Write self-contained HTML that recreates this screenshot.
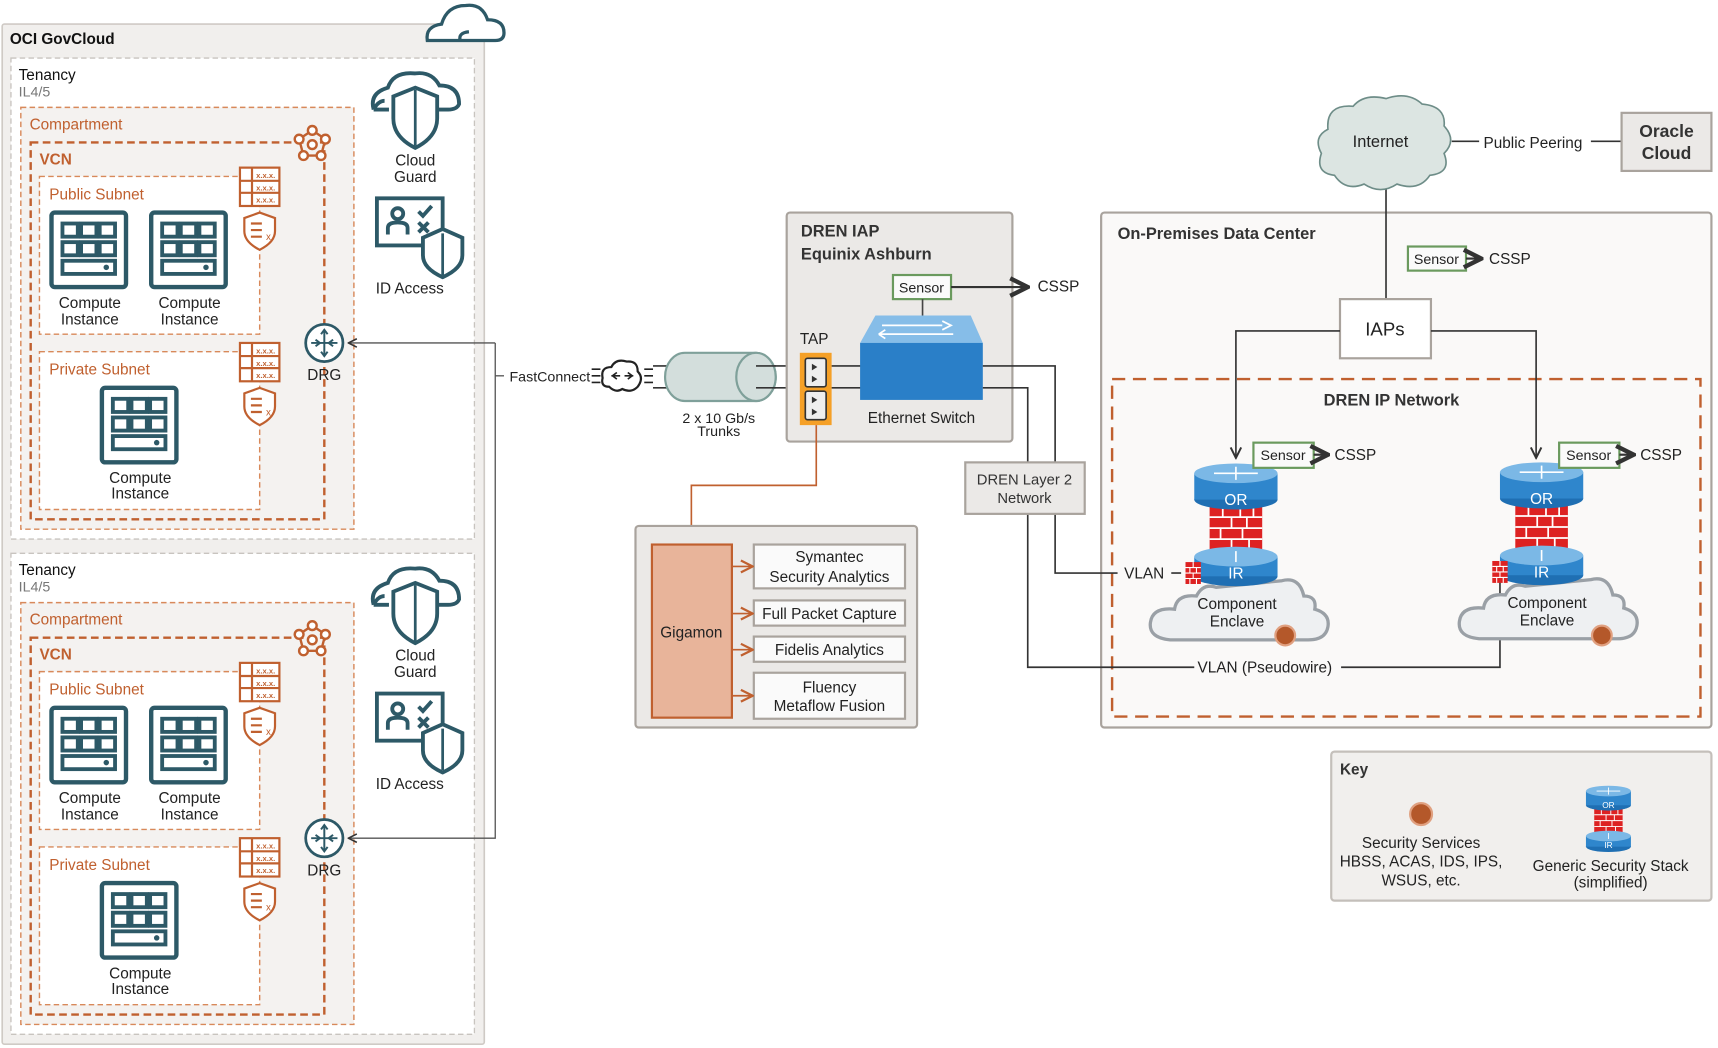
<!DOCTYPE html>
<html><head><meta charset="utf-8"><style>
html,body{margin:0;padding:0;background:#fff;}
svg{display:block;font-family:"Liberation Sans",sans-serif;}
</style></head><body>
<svg width="1718" height="1048" viewBox="0 0 1568 956.5" xmlns="http://www.w3.org/2000/svg">
<defs>
 <g id="compute">
  <rect x="2" y="2" width="68" height="68" rx="3" fill="#fff" stroke="#2d5967" stroke-width="4"/>
  <g fill="none" stroke="#2d5967" stroke-width="3.5">
   <rect x="12" y="12" width="14" height="12"/><rect x="29" y="12" width="14" height="12"/><rect x="46" y="12" width="14" height="12"/>
   <rect x="12" y="29" width="14" height="12"/><rect x="29" y="29" width="14" height="12"/><rect x="46" y="29" width="14" height="12"/>
   <rect x="12" y="46" width="48" height="12"/>
  </g>
  <circle cx="52" cy="52" r="2.5" fill="#2d5967"/>
 </g>
 <g id="seclist">
  <rect x="0" y="0" width="36" height="35" fill="#fff" stroke="#c0602f" stroke-width="2"/>
  <line x1="11" y1="0" x2="11" y2="35" stroke="#c0602f" stroke-width="2"/>
  <line x1="0" y1="12" x2="36" y2="12" stroke="#c0602f" stroke-width="2"/>
  <line x1="0" y1="23" x2="36" y2="23" stroke="#c0602f" stroke-width="2"/>
  <text x="23.5" y="9.5" font-size="7" fill="#c0602f" text-anchor="middle" font-weight="bold">x.x.x.</text>
  <text x="23.5" y="21" font-size="7" fill="#c0602f" text-anchor="middle" font-weight="bold">x.x.x.</text>
  <text x="23.5" y="32" font-size="7" fill="#c0602f" text-anchor="middle" font-weight="bold">x.x.x.</text>
  <path d="M18 41 L32 46 L32 58 Q32 68 18 75 Q4 68 4 58 L4 46 Z" fill="#fff" stroke="#c0602f" stroke-width="2"/>
  <path d="M10 51 h10 M10 57 h10 M10 63 h10" stroke="#c0602f" stroke-width="2"/>
  <text x="26" y="66" font-size="9" fill="#c0602f" text-anchor="middle">x</text>
 </g>
 <g id="vcnicon" fill="#fff" stroke="#c0602f" stroke-width="2.2">
  <path d="M0 -12 L12 -4 L8 11 L-8 11 L-12 -4 Z" fill="none"/>
  <circle cx="0" cy="-12" r="4"/><circle cx="12" cy="-4" r="4"/><circle cx="8" cy="11" r="4"/><circle cx="-8" cy="11" r="4"/><circle cx="-12" cy="-4" r="4"/><circle cx="0" cy="1" r="4"/>
 </g>
 <g id="drg">
  <circle cx="0" cy="0" r="17" fill="#fff" stroke="#2d5967" stroke-width="2.5"/>
  <path d="M0 -12 V12 M-12 0 H12" stroke="#2d5967" stroke-width="1.8"/>
  <path d="M-3 -8 L0 -12 L3 -8 M-3 8 L0 12 L3 8 M-8 -3 L-4 0 L-8 3 M8 -3 L4 0 L8 3" fill="none" stroke="#2d5967" stroke-width="1.8"/>
 </g>
 <g id="cguard" fill="none" stroke="#2d5967" stroke-width="3.5">
  <path d="M-28 -8 Q-34 -8 -38 0 M-38 0 Q-42 -15 -25 -20 Q-20 -35 0 -33 Q15 -35 22 -22 Q40 -22 40 -5 Q38 0 30 0 h-14 M-38 0 h14"/>
  <path d="M0 -20 L20 -12 L20 8 Q20 25 0 35 Q-20 25 -20 8 L-20 -12 Z" fill="#fff"/>
  <line x1="0" y1="-18" x2="0" y2="33" stroke-width="2.5"/>
 </g>
 <g id="idacc" stroke="#2d5967" stroke-width="3.5" fill="none">
  <rect x="0" y="0" width="60" height="43" fill="#fff"/>
  <circle cx="19" cy="14" r="5"/><path d="M10 33 V27 Q10 22 19 22 Q28 22 28 27 V33"/>
  <path d="M38 12 l4 4 l8 -9 M38 22 l9 9 M47 22 l-9 9"/>
  <path d="M60 28 L78 36 L78 52 Q78 64 60 72 Q42 64 42 52 L42 36 Z" fill="#fff"/>
  <line x1="60" y1="32" x2="60" y2="70" stroke-width="2.5"/>
 </g>
 <g id="stack">
  <rect x="-24" y="30" width="48" height="42" fill="#d22"/>
  <g stroke="#fff" stroke-width="1.6">
   <path d="M-24 40 h48 M-24 50 h48 M-24 60 h48 M-12 30 v10 M4 30 v10 M16 30 v10 M-4 40 v10 M10 40 v10 M-14 50 v10 M6 50 v10 M-4 60 v10 M12 60 v10"/>
  </g>
  <ellipse cx="0" cy="24" rx="38" ry="9" fill="#1f6fb3"/>
  <rect x="-38" y="0" width="76" height="24" fill="#2f86cc"/>
  <ellipse cx="0" cy="0" rx="38" ry="9" fill="#7bb8e6"/>
  <path d="M-20 0 h40 M0 -6 v12" stroke="#fff" stroke-width="1.5"/>
  <ellipse cx="0" cy="94" rx="38" ry="9" fill="#1f6fb3"/>
  <rect x="-38" y="76" width="76" height="18" fill="#2f86cc"/>
  <ellipse cx="0" cy="76" rx="38" ry="9" fill="#7bb8e6"/>
  <path d="M0 71 v10" stroke="#fff" stroke-width="1.5"/>
  <text x="0" y="29" font-size="14" fill="#fff" text-anchor="middle">OR</text>
  <text x="0" y="96" font-size="14" fill="#fff" text-anchor="middle">IR</text>
 </g>
 <g id="fwsmall">
  <rect x="0" y="0" width="14" height="20" fill="#d22"/>
  <path d="M0 5 h14 M0 10 h14 M0 15 h14 M7 0 v5 M4 5 v5 M10 5 v5 M7 10 v5 M4 15 v5 M10 15 v5" stroke="#fff" stroke-width="1"/>
 </g>
 <g id="encloud">
  <path d="M-62 72 Q-82 70 -80 56 Q-78 42 -58 44 Q-56 30 -38 32 Q-32 20 -20 24 L40 18 Q56 14 60 32 Q72 32 70 44 Q84 48 82 60 Q80 72 64 72 Z" fill="#eef0f2" stroke="#9aa0a6" stroke-width="3"/>
 </g>
 <marker id="ar" viewBox="0 0 10 10" refX="9" refY="5" markerWidth="8" markerHeight="8" orient="auto"><path d="M1 1 L9 5 L1 9" fill="none" stroke="#333" stroke-width="1.5"/></marker>
 <marker id="aro" viewBox="0 0 10 10" refX="9" refY="5" markerWidth="9" markerHeight="9" orient="auto"><path d="M1 1 L9 5 L1 9" fill="none" stroke="#c0602f" stroke-width="1.5"/></marker>
 <marker id="arb" viewBox="0 0 10 10" refX="9" refY="5" markerWidth="10" markerHeight="10" orient="auto"><path d="M1 1 L9 5 L1 9" fill="none" stroke="#333" stroke-width="2"/></marker>
</defs>

<!-- OCI GovCloud -->
<rect x="2" y="22" width="440" height="931" fill="#f1efed" stroke="#cfcac5" stroke-width="1.5" rx="2"/>
<text x="9" y="40" font-size="14" font-weight="bold" fill="#111">OCI GovCloud</text>
<path d="M390 37 Q388 24 403 22 Q408 5 425 5 Q440 3 445 18 Q460 18 460 30 Q460 37 452 37 Z" fill="#fff" stroke="#2d5967" stroke-width="3"/>
<path d="M420 37 Q418 30 428 29" fill="none" stroke="#2d5967" stroke-width="3"/>

<!-- Tenancies -->
<g id="ten">
<rect x="10" y="53" width="423" height="439" fill="#fff" stroke="#c8c4bf" stroke-dasharray="5,3" stroke-width="1.2"/>
<text x="17" y="73" font-size="14" fill="#111">Tenancy</text>
<text x="17" y="88" font-size="13" fill="#777">IL4/5</text>
<rect x="19" y="98" width="304" height="385" fill="#f4f2f0" stroke="#d8895a" stroke-dasharray="5,3" stroke-width="1.3"/>
<text x="27" y="118" font-size="14" fill="#c0602f">Compartment</text>
<rect x="28" y="130" width="268" height="344" fill="none" stroke="#c0602f" stroke-dasharray="7,4" stroke-width="2.2"/>
<text x="36" y="150" font-size="14" font-weight="bold" fill="#c0602f">VCN</text>
<use href="#vcnicon" x="285" y="131"/>
<rect x="36" y="161" width="201" height="144" fill="#fff" stroke="#d8895a" stroke-dasharray="5,3" stroke-width="1.3"/>
<text x="45" y="182" font-size="14" fill="#c0602f">Public Subnet</text>
<use href="#compute" x="45" y="192"/>
<use href="#compute" x="136" y="192"/>
<text font-size="14" fill="#222" text-anchor="middle"><tspan x="82" y="281">Compute</tspan><tspan x="82" y="296">Instance</tspan></text>
<text font-size="14" fill="#222" text-anchor="middle"><tspan x="173" y="281">Compute</tspan><tspan x="173" y="296">Instance</tspan></text>
<use href="#seclist" x="219" y="153"/>
<rect x="36" y="321" width="201" height="144" fill="#fff" stroke="#d8895a" stroke-dasharray="5,3" stroke-width="1.3"/>
<text x="45" y="342" font-size="14" fill="#c0602f">Private Subnet</text>
<use href="#compute" x="91" y="352"/>
<text font-size="14" fill="#222" text-anchor="middle"><tspan x="128" y="441">Compute</tspan><tspan x="128" y="455">Instance</tspan></text>
<use href="#seclist" x="219" y="313"/>
<use href="#drg" x="296" y="313"/>
<text x="296" y="347" font-size="14" fill="#222" text-anchor="middle">DRG</text>
<use href="#cguard" x="379" y="100"/>
<text font-size="14" fill="#222" text-anchor="middle"><tspan x="379" y="151">Cloud</tspan><tspan x="379" y="166">Guard</tspan></text>
<use href="#idacc" x="344" y="181"/>
<text x="374" y="268" font-size="14" fill="#222" text-anchor="middle">ID Access</text>
</g>
<use href="#ten" x="0" y="452"/>

<!-- FastConnect -->
<path d="M452 313 H318" stroke="#555" stroke-width="1.2" fill="none" marker-end="url(#ar)"/>
<path d="M452 313 V765 H318" stroke="#555" stroke-width="1.2" fill="none" marker-end="url(#ar)"/>
<line x1="452" y1="343" x2="460" y2="343" stroke="#555" stroke-width="1.2"/>
<text x="465" y="348" font-size="13" fill="#222">FastConnect</text>
<g transform="translate(568,343)" fill="none" stroke="#222" stroke-width="2">
 <path d="M-12 10 Q-20 10 -18 2 Q-20 -8 -10 -8 Q-6 -16 4 -13 Q14 -14 14 -4 Q20 2 14 10 Q8 16 0 12 Q-6 16 -12 10 Z" fill="#fff"/>
 <path d="M-10 0 h8 M-5 -3 l-4 3 l4 3 M10 0 h-8 M5 -3 l4 3 l-4 3" stroke-width="1.5"/>
 <path d="M-28 -6 h8 M-28 0 h8 M-28 6 h8 M20 -6 h8 M20 0 h8 M20 6 h8" stroke-width="1.5"/>
</g>
<line x1="596" y1="334" x2="740" y2="334" stroke="#333" stroke-width="1.5"/>
<line x1="596" y1="354" x2="740" y2="354" stroke="#333" stroke-width="1.5"/>
<path d="M625 322 H690 A18 22 0 0 1 690 366 H625 A18 22 0 0 1 625 322 Z" fill="#d3dedc" stroke="#7fa09a" stroke-width="2"/>
<ellipse cx="690" cy="344" rx="18" ry="22" fill="#d3dedc" stroke="#7fa09a" stroke-width="2"/>
<line x1="690" y1="334" x2="708" y2="334" stroke="#333" stroke-width="1.5"/>
<line x1="690" y1="354" x2="708" y2="354" stroke="#333" stroke-width="1.5"/>
<text font-size="13" fill="#222" text-anchor="middle"><tspan x="656" y="386">2 x 10 Gb/s</tspan><tspan x="656" y="398">Trunks</tspan></text>

<!-- On-Prem background (drawn before connectors) -->
<rect x="1005" y="194" width="557" height="470" rx="3" fill="#faf9f8" stroke="#a9a39d" stroke-width="2"/>
<text x="1020" y="218" font-size="15" font-weight="bold" fill="#333">On-Premises Data Center</text>
<rect x="1015" y="346" width="537" height="308" fill="none" stroke="#c0602f" stroke-dasharray="12,7" stroke-width="2.2"/>
<text x="1270" y="370" font-size="15" font-weight="bold" fill="#333" text-anchor="middle">DREN IP Network</text>

<!-- DREN IAP -->
<rect x="718" y="194" width="206" height="209" rx="3" fill="#ebe9e7" stroke="#a9a39d" stroke-width="2"/>
<text font-size="15" font-weight="bold" fill="#333"><tspan x="731" y="216">DREN IAP</tspan><tspan x="731" y="237">Equinix Ashburn</tspan></text>
<rect x="815" y="251" width="53" height="22" fill="#fafafa" stroke="#6a9a5e" stroke-width="2"/>
<text x="841" y="267" font-size="13" fill="#222" text-anchor="middle">Sensor</text>
<line x1="868" y1="262" x2="938" y2="262" stroke="#333" stroke-width="2" marker-end="url(#arb)"/>
<text x="947" y="266" font-size="14" fill="#222">CSSP</text>
<line x1="842" y1="273" x2="842" y2="290" stroke="#444" stroke-width="1.5"/>
<line x1="759" y1="334" x2="790" y2="334" stroke="#333" stroke-width="1.5"/>
<line x1="759" y1="354" x2="790" y2="354" stroke="#333" stroke-width="1.5"/>
<text x="730" y="314" font-size="14" fill="#222">TAP</text>
<rect x="730" y="322" width="29" height="66" fill="#f5a027"/>
<rect x="735" y="327" width="19" height="26" rx="2" fill="#eee" stroke="#333" stroke-width="1.5"/>
<rect x="735" y="357" width="19" height="26" rx="2" fill="#eee" stroke="#333" stroke-width="1.5"/>
<path d="M741 332 l5 3 l-5 3 Z M741 343 l5 3 l-5 3 Z M741 362 l5 3 l-5 3 Z M741 373 l5 3 l-5 3 Z" fill="#333"/>
<path d="M799 288 L886 288 L897 313 L785 313 Z" fill="#86bde8"/>
<rect x="785" y="313" width="112" height="52" fill="#2a7fc8"/>
<path d="M805 297 h55 M860 293 l8 4 l-8 4 M810 305 h-8 M802 305 l6 -4 M802 305 l6 4 M810 305 h60" stroke="#fff" stroke-width="1.6" fill="none"/>
<text x="841" y="386" font-size="14" fill="#222" text-anchor="middle">Ethernet Switch</text>
<path d="M897 334 H963 V523 H1020" stroke="#333" stroke-width="1.5" fill="none"/>
<path d="M897 354 H938 V609 H1090" stroke="#333" stroke-width="1.5" fill="none"/>
<path d="M1224 609 H1369 V525" stroke="#333" stroke-width="1.5" fill="none"/>
<text x="1026" y="528" font-size="14" fill="#222">VLAN</text>
<line x1="1069" y1="523" x2="1078" y2="523" stroke="#333" stroke-width="1.5"/>
<text x="1093" y="614" font-size="14" fill="#222">VLAN (Pseudowire)</text>
<rect x="881" y="422" width="109" height="47" fill="#ebe9e7" stroke="#a9a39d" stroke-width="2"/>
<text font-size="13.5" fill="#333" text-anchor="middle"><tspan x="935" y="442">DREN Layer 2</tspan><tspan x="935" y="459">Network</tspan></text>

<!-- Gigamon -->
<path d="M745 388 V443 H631 V494" stroke="#c0602f" stroke-width="1.5" fill="none" marker-end="url(#aro)"/>
<rect x="580" y="480" width="257" height="184" rx="3" fill="#ebe9e7" stroke="#a9a39d" stroke-width="2"/>
<rect x="595" y="497" width="73" height="158" fill="#e8b49a" stroke="#c0602f" stroke-width="2"/>
<text x="631" y="582" font-size="14" fill="#222" text-anchor="middle">Gigamon</text>
<g fill="#fafafa" stroke="#a9a39d" stroke-width="2">
 <rect x="688" y="497" width="138" height="40"/><rect x="688" y="548" width="138" height="23"/><rect x="688" y="581" width="138" height="23"/><rect x="688" y="614" width="138" height="42"/>
</g>
<g stroke="#c0602f" stroke-width="1.5" marker-end="url(#aro)">
 <line x1="668" y1="517" x2="687" y2="517"/><line x1="668" y1="560" x2="687" y2="560"/><line x1="668" y1="593" x2="687" y2="593"/><line x1="668" y1="635" x2="687" y2="635"/>
</g>
<text font-size="14" fill="#222" text-anchor="middle"><tspan x="757" y="513">Symantec</tspan><tspan x="757" y="531">Security Analytics</tspan></text>
<text x="757" y="565" font-size="14" fill="#222" text-anchor="middle">Full Packet Capture</text>
<text x="757" y="598" font-size="14" fill="#222" text-anchor="middle">Fidelis Analytics</text>
<text font-size="14" fill="#222" text-anchor="middle"><tspan x="757" y="632">Fluency</tspan><tspan x="757" y="649">Metaflow Fusion</tspan></text>

<!-- Internet / Oracle -->
<line x1="1325" y1="129" x2="1350" y2="129" stroke="#333" stroke-width="1.5"/>
<text x="1354" y="135" font-size="14" fill="#222">Public Peering</text>
<line x1="1452" y1="129" x2="1480" y2="129" stroke="#333" stroke-width="1.5"/>
<rect x="1480" y="103" width="82" height="53" fill="#ebe9e7" stroke="#a9a39d" stroke-width="2"/>
<text font-size="16" font-weight="bold" fill="#333" text-anchor="middle"><tspan x="1521" y="125">Oracle</tspan><tspan x="1521" y="145">Cloud</tspan></text>

<line x1="1265" y1="165" x2="1265" y2="273" stroke="#333" stroke-width="1.5"/>
<path d="M1218 160 Q1200 158 1206 140 Q1198 125 1212 118 Q1210 95 1235 97 Q1245 85 1265 90 Q1285 83 1298 95 Q1320 97 1318 115 Q1330 128 1318 140 Q1325 158 1305 160 Q1295 175 1275 168 Q1260 178 1245 168 Q1228 175 1218 160 Z" fill="#dce5e2" stroke="#6e8d88" stroke-width="1.5"/>
<text x="1260" y="134" font-size="15" fill="#222" text-anchor="middle">Internet</text>
<rect x="1285" y="225" width="53" height="22" fill="#fafafa" stroke="#6a9a5e" stroke-width="2"/>
<text x="1311" y="241" font-size="13" fill="#222" text-anchor="middle">Sensor</text>
<line x1="1338" y1="236" x2="1352" y2="236" stroke="#333" stroke-width="2" marker-end="url(#arb)"/>
<text x="1359" y="241" font-size="14" fill="#222">CSSP</text>
<rect x="1223" y="273" width="83" height="54" fill="#fff" stroke="#a9a39d" stroke-width="2"/>
<text x="1264" y="306" font-size="17" fill="#222" text-anchor="middle">IAPs</text>
<path d="M1223 302 H1128 V418" stroke="#333" stroke-width="1.5" fill="none" marker-end="url(#ar)"/>
<path d="M1306 302 H1402 V418" stroke="#333" stroke-width="1.5" fill="none" marker-end="url(#ar)"/>

<use href="#encloud" x="1130" y="512"/>
<use href="#stack" x="1128" y="432"/>
<text font-size="14" fill="#222" text-anchor="middle"><tspan x="1129" y="556">Component</tspan><tspan x="1129" y="572">Enclave</tspan></text>
<circle cx="1173" cy="580" r="9" fill="#b4582a" stroke="#e0a080" stroke-width="2"/>
<use href="#fwsmall" x="1082" y="513"/>
<rect x="1144" y="404" width="55" height="23" fill="#fafafa" stroke="#6a9a5e" stroke-width="2"/>
<text x="1171" y="420" font-size="13" fill="#222" text-anchor="middle">Sensor</text>
<line x1="1199" y1="415" x2="1212" y2="415" stroke="#333" stroke-width="2" marker-end="url(#arb)"/>
<text x="1218" y="420" font-size="14" fill="#222">CSSP</text>

<use href="#encloud" x="1412" y="511"/>
<use href="#stack" x="1407" y="431"/>
<text font-size="14" fill="#222" text-anchor="middle"><tspan x="1412" y="555">Component</tspan><tspan x="1412" y="571">Enclave</tspan></text>
<circle cx="1462" cy="580" r="9" fill="#b4582a" stroke="#e0a080" stroke-width="2"/>
<use href="#fwsmall" x="1362" y="512"/>
<rect x="1423" y="404" width="55" height="23" fill="#fafafa" stroke="#6a9a5e" stroke-width="2"/>
<text x="1450" y="420" font-size="13" fill="#222" text-anchor="middle">Sensor</text>
<line x1="1478" y1="415" x2="1491" y2="415" stroke="#333" stroke-width="2" marker-end="url(#arb)"/>
<text x="1497" y="420" font-size="14" fill="#222">CSSP</text>

<!-- Key -->
<rect x="1215" y="686" width="347" height="136" rx="3" fill="#f1efed" stroke="#c4bfba" stroke-width="2"/>
<text x="1223" y="707" font-size="14" font-weight="bold" fill="#333">Key</text>
<circle cx="1297" cy="743" r="10" fill="#b4582a" stroke="#e0a080" stroke-width="2"/>
<text font-size="14" fill="#222" text-anchor="middle"><tspan x="1297" y="774">Security Services</tspan><tspan x="1297" y="791">HBSS, ACAS, IDS, IPS,</tspan><tspan x="1297" y="808">WSUS, etc.</tspan></text>
<g transform="translate(1468,722) scale(0.54)"><use href="#stack"/></g>
<text font-size="14" fill="#222" text-anchor="middle"><tspan x="1470" y="795">Generic Security Stack</tspan><tspan x="1470" y="810">(simplified)</tspan></text>
</svg>
</body></html>
